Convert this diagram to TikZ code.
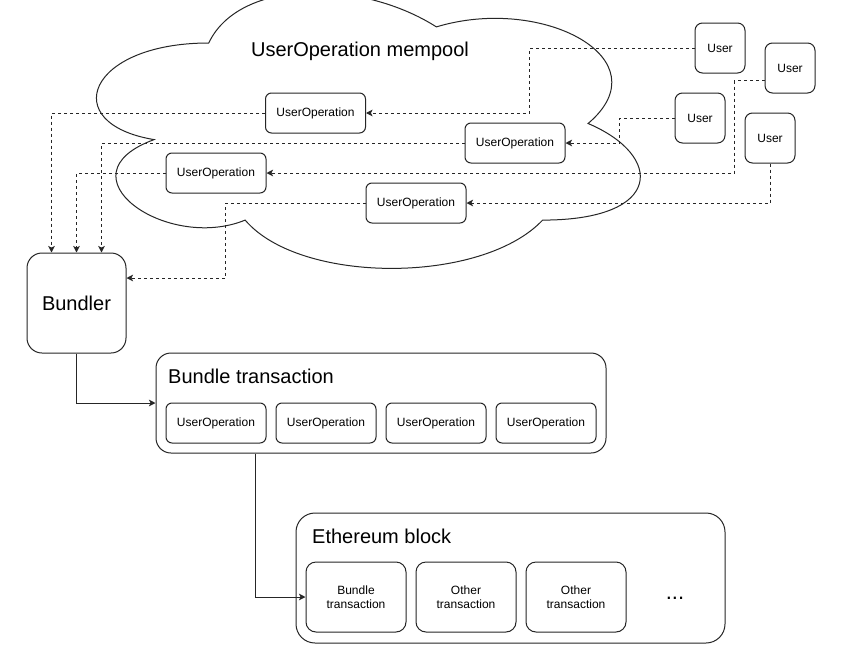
\documentclass[tikz,border=0pt]{standalone}
\usepackage{fontspec}
\setmainfont{Liberation Sans}
\usetikzlibrary{arrows.meta,calc}
\begin{document}
\begin{tikzpicture}[x=1pt,y=-1pt,
  line/.style={draw=black!85, line width=1pt},
  box/.style={line, fill=white, rounded corners=6pt, minimum width=100pt, minimum height=40pt,
    inner sep=0pt, font=\fontsize{12}{14}\selectfont, align=center},
  userbox/.style={box, minimum width=50pt, minimum height=50pt, rounded corners=7.5pt},
  txbox/.style={box, minimum height=70pt, rounded corners=10pt, font=\fontsize{12}{13.5}\selectfont},
  bigbox/.style={line, rounded corners=15pt, inner sep=0pt},
  title/.style={font=\fontsize{20}{24}\selectfont, inner sep=0pt},
  dashconn/.style={line, dash pattern=on 3pt off 3pt, -{Stealth[length=6.5pt,width=6.5pt,inset=1.5pt]}},
  solidconn/.style={line, -{Stealth[length=6.5pt,width=6.5pt,inset=1.5pt]}}
]
\fill[white] (0,0) rectangle (865,648);
\useasboundingbox (0,0) rectangle (865,648);

% cloud
\draw[line] (208.75,43)
  .. controls (87.35,43) and (57,123.5) .. (154.12,139.6)
  .. controls (57,175.02) and (166.26,252.3) .. (245.17,220.1)
  .. controls (299.8,284.5) and (481.9,284.5) .. (542.6,220.1)
  .. controls (664,220.1) and (664,155.7) .. (588.1,123.5)
  .. controls (664,59.1) and (542.6,-5.3) .. (436.4,26.9)
  .. controls (360.5,-21.4) and (239.1,-21.4) .. (208.75,43) -- cycle;
\node[title] (pool) at (360,51) {UserOperation mempool};

% users
\node[userbox] (u1) at (720,48) {User};
\node[userbox] (u2) at (790,68) {User};
\node[userbox] (u3) at (700,118) {User};
\node[userbox] (u4) at (770,138) {User};

% user operations in mempool
\node[box] (uo1) at (315.5,113) {UserOperation};
\node[box] (uo2) at (515,143) {UserOperation};
\node[box] (uo3) at (216,173) {UserOperation};
\node[box] (uo4) at (416,203) {UserOperation};

% bundler
\node[bigbox, minimum width=99pt, minimum height=100pt, font=\fontsize{20}{24}\selectfont, fill=white] (bundler) at (76.5,303) {Bundler};

% bundle transaction container
\node[bigbox, minimum width=450pt, minimum height=100pt] (btx) at (381,403) {};
\node[title, anchor=west] (btxt) at (168,376) {Bundle transaction};
\node[box] (b1) at (216,423) {UserOperation};
\node[box] (b2) at (326,423) {UserOperation};
\node[box] (b3) at (436,423) {UserOperation};
\node[box] (b4) at (546,423) {UserOperation};

% ethereum block
\node[bigbox, minimum width=429pt, minimum height=130pt, rounded corners=19pt] (eth) at (510.5,578) {};
\node[title, anchor=west] (etht) at (312,536) {Ethereum block};
\node[txbox] (e1) at (356,597) {Bundle\\transaction};
\node[txbox] (e2) at (466,597) {Other\\transaction};
\node[txbox] (e3) at (576,597) {Other\\transaction};
\node[font=\fontsize{22}{24}\selectfont, inner sep=0pt] (dots) at (675,598) {...};

% users -> user operations
\draw[dashconn] (u1.west) -- ++(-165,0) |- (uo1.east);
\draw[dashconn] (u3.west) -- ++(-55,0) |- (uo2.east);
\draw[dashconn] ([yshift=-12.5pt]u2.west) -- ++(-30,0) |- (uo3.east);
\draw[dashconn] (u4.south) |- (uo4.east);

% user operations -> bundler
\draw[dashconn] (uo1.west) -| ([xshift=-25pt]bundler.north);
\draw[dashconn] (uo2.west) -| ([xshift=25pt]bundler.north);
\draw[dashconn] (uo3.west) -| (bundler.north);
\draw[dashconn] (uo4.west) -- ++(-140,0) |- ([yshift=25pt]bundler.east);

% solid flow
\draw[solidconn] (bundler.south) |- (btx.west);
\draw[solidconn] ([xshift=100pt]btx.south west) |- (e1.west);
\end{tikzpicture}
\end{document}
